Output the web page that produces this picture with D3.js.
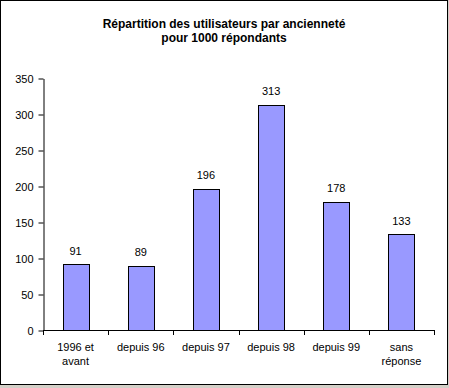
<!DOCTYPE html>
<meta charset="utf-8">
<title>Répartition des utilisateurs</title>
<style>
  body { margin: 0; background: #d4d0c8; }
  svg { display: block; font-family: "Liberation Sans", Arial, sans-serif; }
</style>
<body>
  <script src="https://d3js.org/d3.v7.min.js"></script>
  <script>
    const categories = [["1996 et", "avant"], ["depuis 96"], ["depuis 97"], ["depuis 98"], ["depuis 99"], ["sans", "réponse"]];
    const values = [91, 89, 196, 313, 178, 133];
    const yTicks = [0, 50, 100, 150, 200, 250, 300, 350];

    const width = 449, height = 388;
    const plotLeft = 43, plotRight = 434, plotTop = 78, plotBottom = 330;

    const svg = d3.select("body").append("svg")
      .attr("width", width)
      .attr("height", height);

    // frame
    svg.append("rect")
      .attr("x", 0.5).attr("y", 0.5)
      .attr("width", 447).attr("height", 384)
      .attr("fill", "#fff")
      .attr("stroke", "#000");

    // title
    const title = svg.append("text")
      .attr("text-anchor", "middle")
      .attr("font-weight", "bold")
      .attr("font-size", 12);
    title.append("tspan").attr("x", 224).attr("y", 28).text("Répartition des utilisateurs par ancienneté");
    title.append("tspan").attr("x", 224).attr("y", 42).text("pour 1000 répondants");

    const keys = categories.map((d, i) => i);
    const x = d3.scaleBand().domain(keys).range([plotLeft, plotRight]).paddingInner(0.6).paddingOuter(0.3);
    const xBound = d3.scaleBand().domain(keys).range([plotLeft, plotRight]);
    const y = d3.scaleLinear().domain([0, 350]).range([plotBottom, plotTop]);

    // bars
    svg.append("g").selectAll("rect")
      .data(values)
      .join("rect")
      .attr("x", (d, i) => Math.round(x(i)) + 0.5)
      .attr("y", d => Math.round(y(d)) + 0.5)
      .attr("width", Math.round(x.bandwidth()))
      .attr("height", d => Math.round(plotBottom - y(d)))
      .attr("fill", "#9999ff")
      .attr("stroke", "#000");

    // value labels
    svg.append("g").selectAll("text")
      .data(values)
      .join("text")
      .attr("x", (d, i) => x(i) + x.bandwidth() / 2)
      .attr("y", d => y(d) - 9.5)
      .attr("text-anchor", "middle")
      .attr("font-size", 11)
      .text(d => d);

    // y axis
    const yAxis = d3.axisLeft(y).tickValues(yTicks).tickSize(5).tickPadding(5).tickSizeOuter(0);
    const gy = svg.append("g")
      .attr("transform", `translate(${plotLeft + 0.5},0.5)`)
      .call(yAxis);
    gy.selectAll("text").attr("font-size", 11).attr("font-family", "Liberation Sans, Arial, sans-serif");

    // x axis
    svg.append("line")
      .attr("x1", plotLeft).attr("x2", plotRight + 1)
      .attr("y1", plotBottom + 0.5).attr("y2", plotBottom + 0.5)
      .attr("stroke", "#000");
    svg.append("g").selectAll("line")
      .data(keys.concat([keys.length]))
      .join("line")
      .attr("x1", d => Math.round(d < keys.length ? xBound(d) : plotRight) + 0.5)
      .attr("x2", d => Math.round(d < keys.length ? xBound(d) : plotRight) + 0.5)
      .attr("y1", plotBottom).attr("y2", plotBottom + 5)
      .attr("stroke", "#000");

    const xl = svg.append("g").selectAll("text")
      .data(categories)
      .join("text")
      .attr("text-anchor", "middle")
      .attr("font-size", 11);
    xl.each(function (d, i) {
      d3.select(this).selectAll("tspan")
        .data(d)
        .join("tspan")
        .attr("x", xBound(i) + xBound.bandwidth() / 2)
        .attr("y", (t, j) => 351 + j * 14)
        .text(t => t);
    });
  </script>
</body>
